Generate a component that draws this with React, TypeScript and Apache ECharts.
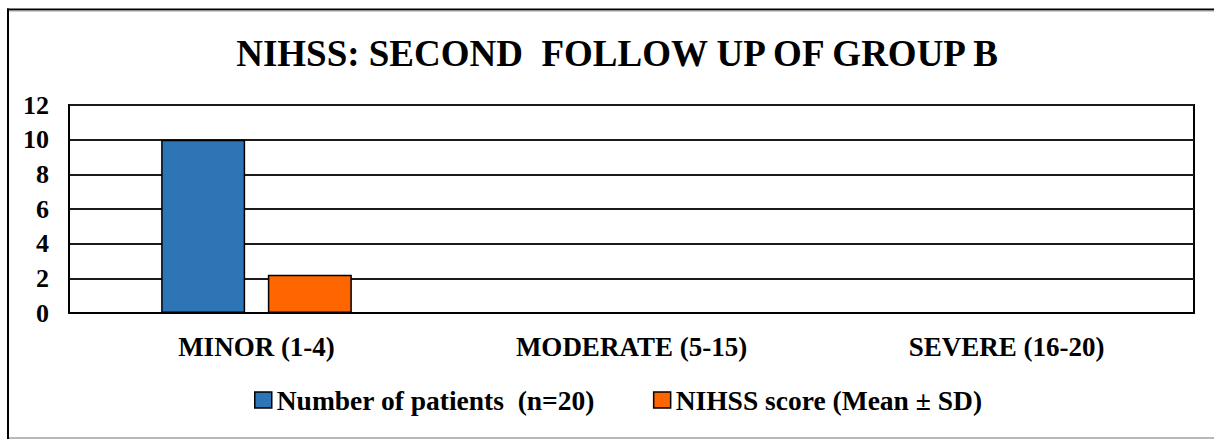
import React, { useEffect, useRef } from "react";
import * as echarts from "echarts";

const titleText = "NIHSS: SECOND  FOLLOW UP OF GROUP B";
const categories = ["MINOR (1-4)", "MODERATE (5-15)", "SEVERE (16-20)"];
const seriesNames = ["Number of patients  (n=20)", "NIHSS score (Mean ± SD)"];
const patients = [10, 0, 0];
const nihssScore = [2.2, 0, 0];
const yTicks = { min: 0, max: 12, interval: 2 };

const W = 1214;
const H = 439;
const FONT = "Liberation Serif, Times New Roman, serif";

export default function App() {
  const ref = useRef<HTMLDivElement>(null);
  useEffect(() => {
    if (!ref.current) return;
    const chart = echarts.init(ref.current, undefined, { renderer: "svg" });
    chart.setOption({
      animation: false,
      backgroundColor: "#ffffff",
      textStyle: { fontFamily: FONT },
      title: {
        text: titleText,
        left: 612,
        top: 30,
        textAlign: "center",
        textStyle: { fontFamily: FONT, fontWeight: "bold", fontSize: 37, color: "#000" },
      },
      legend: {
        data: seriesNames,
        left: 249,
        top: 381,
        icon: "rect",
        itemWidth: 17,
        itemHeight: 16,
        itemGap: 58,
        textStyle: { fontFamily: FONT, fontWeight: "bold", fontSize: 27.5, color: "#000" },
        itemStyle: { borderColor: "#000", borderWidth: 1.5 },
      },
      grid: {
        left: 69,
        right: W - 1194,
        top: 105,
        bottom: H - 313,
        show: true,
        borderColor: "#000",
        borderWidth: 2,
        containLabel: false,
      },
      xAxis: {
        type: "category",
        data: categories,
        axisLine: { show: true, lineStyle: { color: "#000", width: 2 } },
        axisTick: { show: false },
        axisLabel: {
          margin: 20,
          fontFamily: FONT,
          fontWeight: "bold",
          fontSize: 27,
          color: "#000",
          interval: 0,
        },
        splitLine: { show: false },
      },
      yAxis: {
        type: "value",
        min: yTicks.min,
        max: yTicks.max,
        interval: yTicks.interval,
        axisLine: { show: true, lineStyle: { color: "#000", width: 2 } },
        axisTick: { show: false },
        axisLabel: {
          margin: 20,
          fontFamily: FONT,
          fontWeight: "bold",
          fontSize: 26,
          color: "#000",
        },
        splitLine: { show: true, lineStyle: { color: "#1a1a1a", width: 2 } },
      },
      series: [
        {
          name: seriesNames[0],
          type: "bar",
          data: patients,
          barWidth: 84,
          barGap: "27%",
          itemStyle: { color: "#2E75B6", borderColor: "#000", borderWidth: 1.5 },
        },
        {
          name: seriesNames[1],
          type: "bar",
          data: nihssScore,
          barWidth: 84,
          barGap: "27%",
          itemStyle: { color: "#FF6600", borderColor: "#000", borderWidth: 1.5 },
        },
      ],
      graphic: [
        { type: "line", shape: { x1: 8, y1: 8.5, x2: 8, y2: H }, style: { stroke: "#000", lineWidth: 2 } },
        { type: "line", shape: { x1: 7, y1: 9.5, x2: W, y2: 9.5 }, style: { stroke: "#000", lineWidth: 2 } },
        { type: "line", shape: { x1: 9, y1: 11, x2: W, y2: 11 }, style: { stroke: "#a0a0a0", lineWidth: 1 } },
        { type: "line", shape: { x1: 9, y1: 438, x2: W, y2: 438 }, style: { stroke: "#a0a0a0", lineWidth: 1.5 } },
      ],
    });
    return () => chart.dispose();
  }, []);
  return (
    <div
      style={{
        position: "fixed",
        left: 0,
        top: 0,
        width: W,
        height: H,
        overflow: "hidden",
        background: "#fff",
      }}
    >
      <div ref={ref} style={{ width: W, height: H }} />
    </div>
  );
}
